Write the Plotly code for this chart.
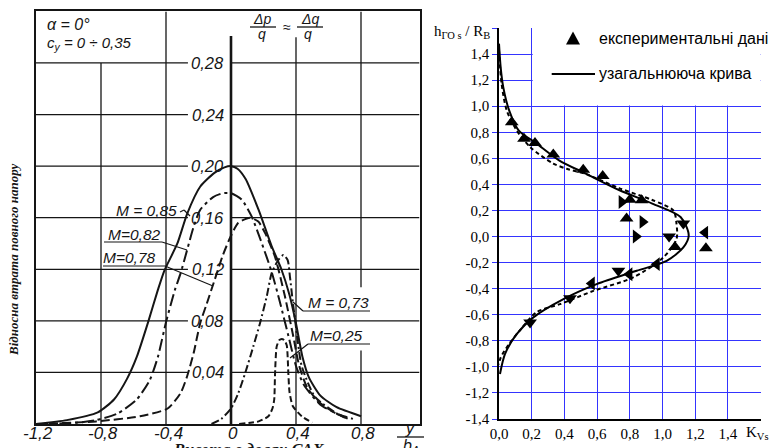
import plotly.graph_objects as go

W, H = 776, 448


def P(px, py):
    return px / W, 1 - py / H


# ---------------- Left panel data (scanned chart) ----------------
left_xtick_vals = [-1.2, -0.8, -0.4, 0.0, 0.4, 0.8]
left_xtick_text = ["-1,2", "-0,8", "-0,4", "0", "0,4", "0,8"]
left_ytick_vals = [0.04, 0.08, 0.12, 0.16, 0.20, 0.24, 0.28]
left_ytick_text = ["0,04", "0,08", "0,12", "0,16", "0,20", "0,24", "0,28"]

m085_x = [-1.2, -1.01, -0.82, -0.72, -0.64, -0.58, -0.51, -0.45, -0.41, -0.33, -0.27, -0.19, -0.10, -0.04, 0.0,
          0.04, 0.09, 0.17, 0.25, 0.31, 0.36, 0.40, 0.44, 0.48, 0.55, 0.65, 0.80]
m085_y = [0.0, 0.003, 0.009, 0.019, 0.035, 0.052, 0.079, 0.104, 0.119, 0.140, 0.163, 0.184, 0.195, 0.199, 0.200,
          0.198, 0.190, 0.166, 0.138, 0.120, 0.100, 0.078, 0.052, 0.036, 0.022, 0.013, 0.006]

m082_x = [-1.2, -0.95, -0.83, -0.70, -0.58, -0.50, -0.45, -0.40, -0.345, -0.31, -0.27, -0.23, -0.19, -0.11, -0.05,
          0.0, 0.066, 0.127, 0.19, 0.25, 0.30, 0.35, 0.40, 0.45, 0.55, 0.65, 0.72]
m082_y = [0.0, 0.001, 0.003, 0.008, 0.019, 0.034, 0.052, 0.079, 0.104, 0.117, 0.135, 0.153, 0.166, 0.176, 0.179,
          0.179, 0.174, 0.161, 0.140, 0.118, 0.095, 0.070, 0.045, 0.030, 0.015, 0.008, 0.004]

m078_x = [-1.2, -0.83, -0.56, -0.39, -0.31, -0.27, -0.23, -0.19, -0.15, -0.10, -0.05, 0.0, 0.045, 0.117, 0.168,
          0.21, 0.27, 0.33, 0.38, 0.42, 0.47, 0.55, 0.65, 0.75]
m078_y = [0.0, 0.002, 0.006, 0.012, 0.024, 0.037, 0.055, 0.078, 0.093, 0.112, 0.131, 0.146, 0.156, 0.160, 0.157,
          0.148, 0.130, 0.100, 0.070, 0.045, 0.028, 0.016, 0.008, 0.004]

m073_x = [-0.12, -0.06, 0.0, 0.045, 0.086, 0.137, 0.178, 0.22, 0.25, 0.29, 0.322, 0.349, 0.363, 0.38, 0.40, 0.435,
          0.517, 0.64, 0.70]
m073_y = [0.0, 0.004, 0.012, 0.024, 0.039, 0.060, 0.078, 0.099, 0.117, 0.127, 0.131, 0.127, 0.114, 0.095, 0.075,
          0.045, 0.021, 0.009, 0.005]

m025_x = [0.05, 0.12, 0.17, 0.23, 0.255, 0.266, 0.271, 0.281, 0.297, 0.312, 0.328, 0.343, 0.353, 0.36, 0.38, 0.435,
          0.50]
m025_y = [0.0, 0.001, 0.002, 0.006, 0.012, 0.019, 0.039, 0.060, 0.065, 0.066, 0.065, 0.061, 0.039, 0.025, 0.014,
          0.006, 0.001]

# ---------------- Right panel data ----------------
right_xtick_vals = [0.0, 0.2, 0.4, 0.6, 0.8, 1.0, 1.2, 1.4, 1.6]
right_xtick_text = ["0,0", "0,2", "0,4", "0,6", "0,8", "1,0", "1,2", "1,4", ""]
right_ytick_vals = [-1.4, -1.2, -1.0, -0.8, -0.6, -0.4, -0.2, 0.0, 0.2, 0.4, 0.6, 0.8, 1.0, 1.2, 1.4, 1.6]
right_ytick_text = ["-1,4", "-1,2", "-1,0", "-0,8", "-0,6", "-0,4", "-0,2", "0,0", "0,2", "0,4", "0,6", "0,8",
                    "1,0", "1,2", "1,4", ""]

tri_up_x = [0.078, 0.153, 0.22, 0.332, 0.515, 0.634, 0.80, 0.872, 0.78, 1.076, 1.265]
tri_up_y = [0.877, 0.75, 0.717, 0.63, 0.513, 0.464, 0.283, 0.278, 0.138, -0.08, -0.09]
tri_right_x = [0.75, 0.878, 0.837]
tri_right_y = [0.265, 0.112, 0.0]
tri_down_x = [1.127, 1.04, 0.73, 0.434, 0.19]
tri_down_y = [0.10, 0.0, -0.263, -0.473, -0.659]
tri_left_x = [1.26, 0.964, 0.797, 0.567]
tri_left_y = [0.03, -0.212, -0.289, -0.36]

curve_solid_x = [0.0, 0.01, 0.026, 0.062, 0.12, 0.23, 0.367, 0.53, 0.737, 0.937, 1.11, 1.16, 1.127, 1.025, 0.842,
                 0.597, 0.394, 0.21, 0.108, 0.037, 0.006]
curve_solid_y = [1.48, 1.30, 1.146, 0.968, 0.815, 0.713, 0.585, 0.483, 0.355, 0.253, 0.15, 0.01, -0.084, -0.187,
                 -0.263, -0.365, -0.48, -0.62, -0.749, -0.90, -1.055]

curve_dash_x = [0.0, 0.016, 0.047, 0.108, 0.19, 0.332, 0.414, 0.53, 0.737, 0.937, 1.066, 1.085, 1.085, 1.005, 0.82,
                0.577, 0.373, 0.23, 0.128, 0.061, 0.01, 0.0]
curve_dash_y = [1.43, 1.17, 0.968, 0.815, 0.687, 0.56, 0.52, 0.48, 0.37, 0.28, 0.20, 0.10, -0.02, -0.16, -0.314,
                -0.417, -0.519, -0.58, -0.72, -0.825, -0.93, -0.98]

fig = go.Figure()

ink = "#151515"
left_curves = [
    (m085_x, m085_y, "solid", 2.0),
    (m082_x, m082_y, "12px,4px,3px,4px", 2.0),
    (m078_x, m078_y, "9px,4px", 2.0),
    (m073_x, m073_y, "8px,3px,2px,3px", 2.0),
    (m025_x, m025_y, "6px,3px", 2.0),
]
for cx, cy, dash, w in left_curves:
    fig.add_trace(go.Scatter(x=cx, y=cy, mode="lines", xaxis="x", yaxis="y", showlegend=False,
                             line=dict(color=ink, width=w, dash=dash, shape="spline", smoothing=0.6),
                             hoverinfo="skip"))

fig.add_trace(go.Scatter(x=curve_dash_x, y=curve_dash_y, mode="lines", xaxis="x2", yaxis="y2", showlegend=False,
                         line=dict(color="black", width=2, dash="4px,3px", shape="spline", smoothing=0.8)))
fig.add_trace(go.Scatter(x=curve_solid_x, y=curve_solid_y, mode="lines", xaxis="x2", yaxis="y2", showlegend=False,
                         line=dict(color="black", width=2, shape="spline", smoothing=0.8)))
for tx, ty, sym in [(tri_up_x, tri_up_y, "triangle-up"), (tri_right_x, tri_right_y, "triangle-right"),
                    (tri_down_x, tri_down_y, "triangle-down"), (tri_left_x, tri_left_y, "triangle-left")]:
    fig.add_trace(go.Scatter(x=tx, y=ty, mode="markers", xaxis="x2", yaxis="y2", showlegend=False,
                             marker=dict(symbol=sym, size=12, color="black", line=dict(width=0))))

shapes = []
# left horizontal grid lines, broken where the tick labels sit
for v in left_ytick_vals:
    shapes.append(dict(type="line", xref="x", yref="y", x0=-1.2, x1=-0.265, y0=v, y1=v,
                       line=dict(color=ink, width=1.3), layer="below"))
    shapes.append(dict(type="line", xref="x", yref="y", x0=0.0, x1=1.16, y0=v, y1=v,
                       line=dict(color=ink, width=1.3), layer="below"))
# left vertical grid lines (partial, as in the drawing)
for xv, ya, yb, wd in [(-0.8, 0.0, 0.28, 1.3), (-0.4, 0.0, 0.32, 1.3), (0.4, 0.0, 0.30, 1.3),
                       (0.8, 0.0, 0.057, 1.3), (0.8, 0.106, 0.32, 1.3), (0.0, 0.0, 0.301, 2.6)]:
    shapes.append(dict(type="line", xref="x", yref="y", x0=xv, x1=xv, y0=ya, y1=yb,
                       line=dict(color=ink, width=wd), layer="below"))

# right panel: white legend area hides the grid
shapes.append(dict(type="rect", xref="x2", yref="y2", x0=0.206, x1=1.62, y0=1.006, y1=1.62,
                   fillcolor="white", line=dict(width=0), layer="between"))


def seg(p1, p2, w=1.2, color=ink):
    a = P(*p1)
    b = P(*p2)
    shapes.append(dict(type="line", xref="paper", yref="paper", x0=a[0], y0=a[1], x1=b[0], y1=b[1],
                       line=dict(color=color, width=w)))


# M-label underlines and leaders
seg((180, 212), (184, 210))
seg((184, 210), (190, 216))
seg((104, 242), (162, 242))
seg((162, 242), (187, 250))
seg((103, 266), (165, 266))
seg((165, 266), (213, 286))
seg((303, 311), (370, 311))
seg((303, 311), (293, 302))
seg((308, 344), (370, 344))
seg((308, 344), (290, 358))
# fraction bars
seg((250, 27), (276, 27), 1.3)
seg((297, 27), (323, 27), 1.3)
seg((397, 437), (424, 437), 1.3)

# legend glyphs (right)
seg((551.7, 74), (595, 74), 2.0, "black")
a, b, c = P(566, 44.5), P(580, 44.5), P(573, 31.5)
shapes.append(dict(type="path", xref="paper", yref="paper",
                   path=f"M {a[0]} {a[1]} L {b[0]} {b[1]} L {c[0]} {c[1]} Z",
                   fillcolor="black", line=dict(width=0)))

ann = []
tfont = dict(family="Liberation Sans", size=16.5, color=ink)


def note(text, px, py, size=15, xanchor="center", family="Liberation Sans", color=ink, textangle=0, weight=None):
    x, y = P(px, py)
    f = dict(family=family, size=size, color=color)
    if weight:
        f["weight"] = weight
    ann.append(dict(text=text, x=x, y=y, xref="paper", yref="paper", showarrow=False, xanchor=xanchor,
                    yanchor="middle", font=f, textangle=textangle))


for v, t in zip(left_ytick_vals, left_ytick_text):
    ann.append(dict(text=f"<i>{t}</i>", x=0.0, y=v, xref="x", yref="y", showarrow=False, xanchor="right",
                    yanchor="middle", xshift=-5, font=tfont))
for v, t in zip(left_xtick_vals, left_xtick_text):
    ann.append(dict(text=f"<i>{t}</i>", x=v, y=0.0, xref="x", yref="y", showarrow=False, xanchor="center",
                    yanchor="middle", yshift=-9, xshift=2, font=dict(family="Liberation Sans", size=17,
                                                                     color=ink)))

note("<i>α = 0°</i>", 45, 25, 16, "left")
note("<i>c<sub>y</sub> = 0 ÷ 0,35</i>", 45, 44, 15, "left")
note("<i>Δp</i>", 262, 19, 14)
note("<i>q</i>", 262, 34, 14)
note("<i>≈</i>", 287, 27, 14)
note("<i>Δq</i>", 310, 19, 14)
note("<i>q</i>", 308, 34, 14)
note("<i>M = 0,85</i>", 146, 211, 15.5)
note("<i>M=0,82</i>", 134, 234, 15.5)
note("<i>M=0,78</i>", 129, 257, 15.5)
note("<i>M = 0,73</i>", 338, 302, 15.5)
note("<i>M=0,25</i>", 336, 335, 15.5)
note("<i>y</i>", 410, 428, 16)
note("<i>b<sub>A</sub></i>", 411, 446, 16)
note("<i>Висота в долях САХ</i>", 249, 449, 16.5, family="Liberation Serif", weight="bold")
note("<i>Відносна втрата повного напору</i>", 13, 260, 13, family="Liberation Serif", textangle=-90,
     weight="bold")

note("h<sub>ГО s</sub> / R<sub>B</sub>", 432, 32, 15, "left", family="Liberation Serif", color="black")
note("K<sub>Vs</sub>", 744, 433, 15, "left", family="Liberation Serif", color="black")
note("експериментальні дані", 597, 38, 16, "left", color="black")
note("узагальнююча крива", 597, 74, 16, "left", color="black")

blue = "#3434ff"
fig.update_layout(
    width=W, height=H, margin=dict(l=0, r=0, t=0, b=0, autoexpand=False), paper_bgcolor="white",
    plot_bgcolor="white", showlegend=False,
    xaxis=dict(domain=[36 / W, 419.5 / W], range=[-1.2, 1.16], showgrid=False, zeroline=False, showline=True,
               mirror=True, linecolor=ink, linewidth=1.6, showticklabels=False, ticks="",
               anchor="y", automargin=False),
    yaxis=dict(domain=[1 - 424 / H, 1 - 11.4 / H], range=[0, 0.32], showgrid=False, zeroline=False, showline=True,
               mirror=True, linecolor=ink, linewidth=1.6, showticklabels=False, ticks="", anchor="x",
               automargin=False),
    xaxis2=dict(domain=[499 / W, 760.7 / W], range=[0, 1.6], anchor="y2", tickvals=right_xtick_vals,
                ticktext=right_xtick_text, showgrid=True, gridcolor=blue, gridwidth=1.3, zeroline=False,
                showline=True, linecolor="black", linewidth=1.6, ticks="", automargin=False,
                tickfont=dict(family="Liberation Serif", size=15, color="black")),
    yaxis2=dict(domain=[1 - 419 / H, 1 - 28 / H], range=[-1.4, 1.6], anchor="x2", tickvals=right_ytick_vals,
                ticktext=right_ytick_text, showgrid=True, gridcolor=blue, gridwidth=1.3, zeroline=False,
                showline=True, linecolor="black", linewidth=1.6, ticks="outside", ticklen=5, tickcolor=blue,
                automargin=False, tickfont=dict(family="Liberation Serif", size=15, color="black")),
    shapes=shapes, annotations=ann,
)

fig.write_html("out.html", config={"displayModeBar": False},
               post_script="document.body.style.margin='0';document.body.style.overflow='hidden';")
